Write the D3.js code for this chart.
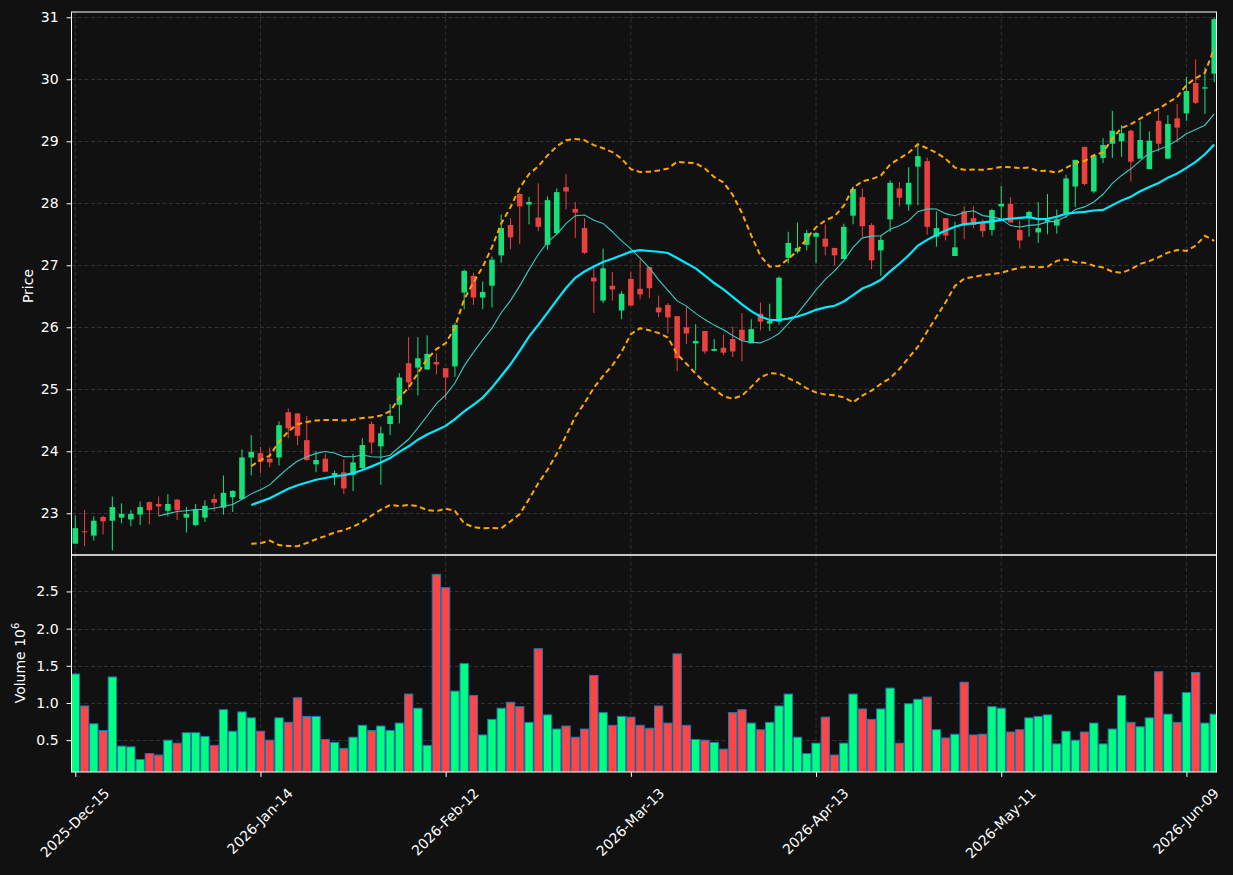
<!DOCTYPE html>
<html>
<head>
<meta charset="utf-8">
<script src="https://cdn.jsdelivr.net/npm/d3@7"></script>
<style>
  html, body { margin: 0; padding: 0; background: #111111; }
  svg { display: block; font-family: "DejaVu Sans", sans-serif; }
</style>
</head>
<body>
<svg id="chart" width="1233" height="875"></svg>
<script>
// tick positions (candle index) and their labels
const tickIdx = [0, 20, 40, 60, 80, 100, 120];
const tickLabels = ["2025-Dec-15", "2026-Jan-14", "2026-Feb-12", "2026-Mar-13", "2026-Apr-13", "2026-May-11", "2026-Jun-09"];

// OHLC
const opens = [22.51,22.71,22.64,22.94,22.88,22.93,22.90,22.98,23.18,23.15,23.04,23.22,22.93,22.81,22.93,23.23,23.09,23.26,23.23,23.90,
  23.97,23.88,23.90,24.63,24.61,24.18,23.79,23.88,23.61,23.66,23.62,23.73,24.44,24.08,24.44,24.75,25.42,25.35,25.32,25.44,
  25.34,25.37,26.56,26.83,26.48,26.67,27.16,27.65,28.15,27.98,27.77,27.33,27.52,28.26,27.91,27.60,26.80,26.43,26.67,26.27,
  26.78,26.62,26.97,26.32,26.36,26.18,26.00,25.74,25.94,25.62,25.67,25.81,25.96,25.74,26.22,26.06,26.09,27.12,27.22,27.33,
  27.46,27.43,27.28,27.10,27.80,28.10,27.65,27.24,27.74,28.24,27.98,28.59,28.68,27.46,27.76,27.15,27.87,27.76,27.69,27.57,
  27.95,27.99,27.57,27.76,27.53,27.70,27.64,27.84,28.27,28.91,28.19,28.73,28.96,29.00,29.17,28.72,28.55,29.33,28.72,29.37,
  29.45,29.94,29.85,30.09];
const highs = [22.96,23.05,22.95,22.96,23.27,23.16,23.05,23.19,23.19,23.27,23.31,23.23,23.10,23.15,23.21,23.31,23.61,23.37,24.03,24.26,
  24.07,24.06,24.48,24.69,24.62,24.57,24.00,23.96,23.69,23.87,23.96,24.21,24.48,24.40,24.76,25.26,25.84,25.84,25.87,25.58,
  25.34,26.07,26.93,26.88,26.74,27.14,27.82,27.76,28.16,28.10,28.32,28.11,28.24,28.47,28.02,27.76,26.97,27.27,26.89,26.58,
  26.90,27.10,26.97,26.51,26.39,26.18,26.33,26.05,25.94,25.81,25.88,26.01,26.23,26.13,26.40,26.38,26.82,27.54,27.69,27.57,
  27.54,27.66,27.28,27.67,28.27,28.24,27.68,27.48,28.37,28.34,28.58,28.94,28.74,27.87,27.76,27.70,27.95,27.95,27.74,27.91,
  28.28,28.10,27.72,27.88,28.02,28.15,27.90,28.46,28.70,28.91,28.77,29.05,29.49,29.26,29.19,29.33,29.16,29.49,29.42,29.60,
  30.04,30.32,30.19,31.00];
const lows = [22.51,22.47,22.56,22.66,22.40,22.84,22.79,22.81,22.82,22.96,22.95,22.89,22.69,22.79,22.86,23.03,22.98,23.02,23.23,23.61,
  23.65,23.74,23.77,24.21,24.10,23.84,23.66,23.66,23.45,23.31,23.36,23.70,23.96,23.46,24.26,24.45,24.99,24.90,25.32,25.24,
  24.83,25.20,26.29,26.36,26.29,26.32,27.04,27.26,27.34,27.66,27.55,27.25,27.49,27.90,27.44,27.18,26.23,26.39,26.43,26.13,
  26.35,26.45,26.47,26.16,25.90,25.29,25.73,25.30,25.57,25.61,25.55,25.52,25.45,25.74,25.95,25.94,26.04,27.03,27.19,27.24,
  27.03,27.16,27.00,27.10,27.66,27.46,26.94,26.83,27.54,27.95,27.88,27.97,27.49,27.30,27.40,27.15,27.42,27.60,27.45,27.48,
  27.72,27.69,27.27,27.46,27.36,27.50,27.51,27.76,27.94,28.29,28.16,28.65,28.73,28.75,28.35,28.72,28.55,28.83,28.72,28.98,
  29.33,29.60,29.44,29.95];
const closes = [22.76,22.70,22.88,22.87,23.10,22.99,22.99,23.10,23.05,23.11,23.15,23.05,22.99,23.07,23.12,23.17,23.33,23.36,23.90,23.99,
  23.83,23.82,24.42,24.37,24.25,23.86,23.86,23.67,23.65,23.40,23.82,24.10,24.14,24.29,24.57,25.19,25.11,25.50,25.57,25.40,
  25.19,26.04,26.91,26.48,26.57,27.09,27.60,27.45,27.95,28.02,27.62,28.05,28.18,28.19,27.85,27.20,26.74,26.95,26.61,26.54,
  26.35,26.53,26.63,26.24,26.16,25.50,25.90,25.78,25.61,25.65,25.59,25.61,25.79,25.97,26.09,26.10,26.80,27.36,27.28,27.52,
  27.52,27.30,27.16,27.62,28.23,27.63,27.08,27.41,28.33,28.09,28.33,28.76,27.62,27.60,27.48,27.29,27.64,27.65,27.55,27.89,
  27.99,27.69,27.40,27.86,27.60,27.73,27.74,28.40,28.70,28.31,28.77,28.94,29.17,29.13,28.67,29.02,29.01,28.96,29.28,29.22,
  29.81,29.62,29.87,30.97];
// volume in millions
const volumes = [1.39,0.96,0.72,0.63,1.35,0.42,0.41,0.24,0.32,0.30,0.50,0.46,0.60,0.60,0.55,0.43,0.91,0.62,0.88,0.80,
  0.62,0.50,0.80,0.74,1.07,0.82,0.82,0.51,0.47,0.39,0.54,0.70,0.63,0.69,0.63,0.73,1.12,0.93,0.43,2.73,
  2.55,1.16,1.53,1.10,0.57,0.78,0.93,1.01,0.95,0.74,1.73,0.84,0.65,0.69,0.54,0.65,1.37,0.87,0.70,0.82,
  0.81,0.70,0.66,0.96,0.73,1.66,0.70,0.51,0.50,0.47,0.38,0.87,0.91,0.73,0.64,0.74,0.96,1.12,0.54,0.32,
  0.46,0.81,0.30,0.46,1.12,0.92,0.78,0.92,1.20,0.46,0.99,1.05,1.08,0.64,0.53,0.58,1.28,0.57,0.58,0.95,
  0.93,0.61,0.64,0.80,0.82,0.84,0.45,0.62,0.50,0.61,0.73,0.45,0.65,1.10,0.74,0.68,0.80,1.42,0.85,0.74,
  1.14,1.41,0.73,0.85];

const upCandle = "#17e07b", downCandle = "#e8413f";
const upVol = "#00ff80", downVol = "#ff4545";
const gridColor = "#3a3a3a";

const svg = d3.select("#chart");
const W = +svg.attr("width"), H = +svg.attr("height");
svg.append("rect").attr("width", W).attr("height", H).attr("fill", "#111111");

const left = 71.5, right = 1216.5;
const priceTop = 12, priceBottom = 555, volTop = 555, volBottom = 772;
const n = closes.length;

const x = d3.scaleLinear().domain([-0.41, n - 0.75]).range([left, right]);
const yP = d3.scaleLinear().domain([22.327, 31.085]).range([priceBottom, priceTop]);
const yV = d3.scaleLinear().domain([0.072, 2.99]).range([volBottom, volTop]);
const step = x(1) - x(0);

// rolling stats on the closes
function rolling(win, fn) {
  return closes.map((c, i) => i < win - 1 ? null : fn(closes.slice(i - win + 1, i + 1)));
}
const ma10 = rolling(10, d3.mean);
const ma20 = rolling(20, d3.mean);
const sd20 = rolling(20, a => { const m = d3.mean(a); return Math.sqrt(d3.mean(a, v => (v - m) * (v - m))); });
const upper = ma20.map((m, i) => m == null ? null : m + 2 * sd20[i]);
const lower = ma20.map((m, i) => m == null ? null : m - 2 * sd20[i]);

// clip paths
const defs = svg.append("defs");
defs.append("clipPath").attr("id", "clipP").append("rect")
  .attr("x", left).attr("y", priceTop).attr("width", right - left).attr("height", priceBottom - priceTop);
defs.append("clipPath").attr("id", "clipV").append("rect")
  .attr("x", left).attr("y", volTop).attr("width", right - left).attr("height", volBottom - volTop);

// grids
function grid(yScale, ticks, top, bottom) {
  const g = svg.append("g").attr("stroke", gridColor).attr("stroke-width", 0.8).attr("stroke-dasharray", "4,2.5");
  g.selectAll(".h").data(ticks).join("line")
    .attr("x1", left).attr("x2", right)
    .attr("y1", d => Math.round(yScale(d)) + 0.5).attr("y2", d => Math.round(yScale(d)) + 0.5);
  g.selectAll(".v").data(tickIdx).join("line")
    .attr("x1", d => x(d)).attr("x2", d => x(d))
    .attr("y1", top).attr("y2", bottom);
}
const priceTicks = d3.range(23, 32);
const volTicks = [0.5, 1.0, 1.5, 2.0, 2.5];
grid(yP, priceTicks, priceTop, priceBottom);
grid(yV, volTicks, volTop, volBottom);

// candles
const idx = d3.range(n);
const cg = svg.append("g").attr("clip-path", "url(#clipP)");
cg.selectAll(".wick").data(idx).join("line")
  .attr("x1", i => x(i)).attr("x2", i => x(i))
  .attr("y1", i => yP(highs[i])).attr("y2", i => yP(lows[i]))
  .attr("stroke", i => closes[i] >= opens[i] ? upCandle : downCandle)
  .attr("stroke-width", 1);
const bw = step * 0.6;
cg.selectAll(".body").data(idx).join("rect")
  .attr("x", i => x(i) - bw / 2).attr("width", bw)
  .attr("y", i => yP(Math.max(opens[i], closes[i])))
  .attr("height", i => Math.max(1, Math.abs(yP(opens[i]) - yP(closes[i]))))
  .attr("fill", i => closes[i] >= opens[i] ? upCandle : downCandle);

// moving averages and bands
const line = d3.line().defined(d => d[1] != null).x(d => x(d[0])).y(d => yP(d[1]));
const lg = svg.append("g").attr("clip-path", "url(#clipP)").attr("fill", "none");
lg.append("path").attr("d", line(ma10.map((v, i) => [i, v])))
  .attr("stroke", "#3cc9c2").attr("stroke-width", 1.1);
lg.append("path").attr("d", line(ma20.map((v, i) => [i, v])))
  .attr("stroke", "#00eaff").attr("stroke-width", 2.2);
[upper, lower].forEach(b => {
  lg.append("path").attr("d", line(b.map((v, i) => [i, v])))
    .attr("stroke", "#ffa500").attr("stroke-width", 2).attr("stroke-dasharray", "5.5,3.5");
});

// volume bars
const vw = step * 0.9;
svg.append("g").attr("clip-path", "url(#clipV)")
  .selectAll("rect").data(idx).join("rect")
  .attr("x", i => x(i) - vw / 2).attr("width", vw)
  .attr("y", i => yV(volumes[i]))
  .attr("height", i => yV(0) - yV(volumes[i]))
  .attr("fill", i => closes[i] >= opens[i] ? upVol : downVol)
  .attr("stroke", "#1f77b4").attr("stroke-width", 1);

// frames
[[priceTop, priceBottom], [volTop, volBottom]].forEach(([t, b]) => {
  svg.append("rect").attr("x", left).attr("y", t).attr("width", right - left).attr("height", b - t)
    .attr("fill", "none").attr("stroke", "#ffffff").attr("stroke-width", 1);
});

// axes
function styleAxis(g) {
  g.select(".domain").remove();
  g.selectAll(".tick line").attr("stroke", "#ffffff");
  g.selectAll(".tick text").attr("fill", "#ffffff").attr("font-size", 14).attr("font-family", "DejaVu Sans");
}
svg.append("g").attr("transform", `translate(${left},0)`)
  .call(d3.axisLeft(yP).tickValues(priceTicks).tickFormat(d3.format("d")).tickSize(4.9).tickPadding(8))
  .call(styleAxis);
svg.append("g").attr("transform", `translate(${left},0)`)
  .call(d3.axisLeft(yV).tickValues(volTicks).tickFormat(d3.format(".1f")).tickSize(4.9).tickPadding(8))
  .call(styleAxis);
const xa = svg.append("g").attr("transform", `translate(0,${volBottom})`)
  .call(d3.axisBottom(x).tickValues(tickIdx).tickFormat((d, i) => tickLabels[i]).tickSize(4.9))
  .call(styleAxis);
xa.selectAll(".tick text").each(function () {
  const t = d3.select(this);
  t.attr("text-anchor", "middle").attr("dy", "0.35em").attr("y", 0);
  const L = this.getComputedTextLength();
  const half = 0.7071 * (L + 16) / 2;
  t.attr("transform", `translate(-1,${13 + half}) rotate(-45)`);
});

// axis labels
svg.append("text").attr("transform", "translate(33,286) rotate(-90)")
  .attr("text-anchor", "middle").attr("fill", "#ffffff").attr("font-size", 14).text("Price");
const vl = svg.append("text").attr("transform", "translate(25,663) rotate(-90)")
  .attr("text-anchor", "middle").attr("fill", "#ffffff").attr("font-size", 14);
vl.append("tspan").text("Volume  10");
vl.append("tspan").attr("dy", -6).attr("font-size", 10).text("6");
</script>
</body>
</html>
